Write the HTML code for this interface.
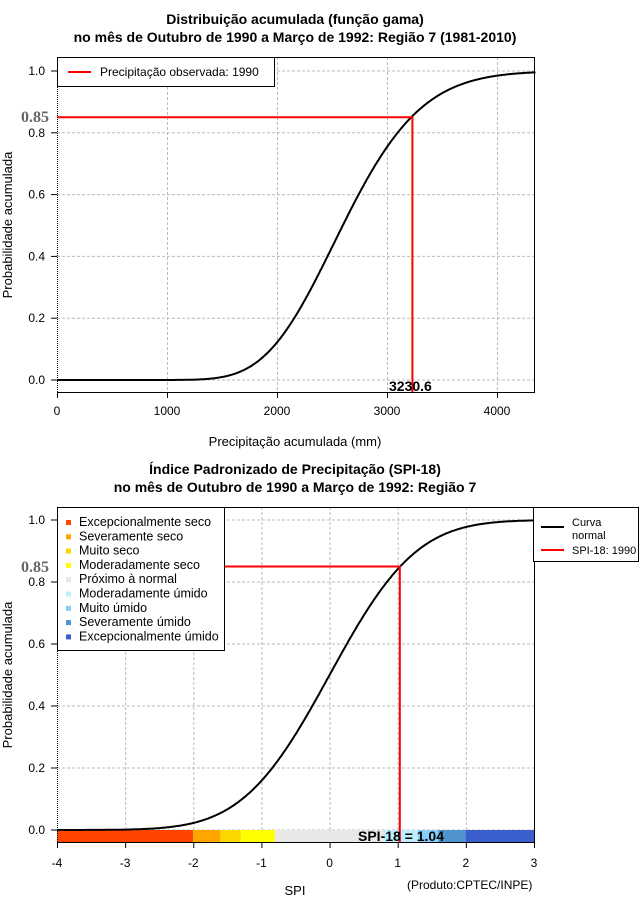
<!DOCTYPE html>
<html><head><meta charset="utf-8">
<style>
html,body{margin:0;padding:0;background:#fff;}
svg{display:block;font-family:"Liberation Sans",sans-serif;}
</style></head><body>
<svg id="s" width="640" height="900" xmlns="http://www.w3.org/2000/svg">
<rect width="640" height="900" fill="#fff"/>
<g font-weight="bold" font-size="14" text-anchor="middle" fill="#000">
<text x="295" y="24">Distribuição acumulada (função gama)</text>
<text x="295" y="42">no mês de Outubro de 1990 a Março de 1992: Região 7 (1981-2010)</text>
<text x="295" y="474">Índice Padronizado de Precipitação (SPI-18)</text>
<text x="295" y="492">no mês de Outubro de 1990 a Março de 1992: Região 7</text>
</g>
<g id="grid" stroke="#bbb" stroke-dasharray="3,2" stroke-width="1"></g>
<g>
<rect x="57" y="830" width="136.2" height="12" fill="#ff4500"/>
<rect x="193.2" y="830" width="27.2" height="12" fill="#ffa500"/>
<rect x="220.4" y="830" width="20.4" height="12" fill="#ffd700"/>
<rect x="240.8" y="830" width="34.1" height="12" fill="#ffff00"/>
<rect x="274.9" y="830" width="109" height="12" fill="#e8e8e8"/>
<rect x="383.9" y="830" width="34.1" height="12" fill="#bfefff"/>
<rect x="418" y="830" width="20.4" height="12" fill="#87cefa"/>
<rect x="438.4" y="830" width="27.2" height="12" fill="#4f94cd"/>
<rect x="465.6" y="830" width="68.4" height="12" fill="#3a5fcd"/>
</g>
<path id="c1" fill="none" stroke="#000" stroke-width="2"/>
<path id="c2" fill="none" stroke="#000" stroke-width="2"/>
<g stroke="#f00" stroke-width="2" fill="none">
<path d="M57 117.3H412.4V392"/>
<path d="M57 566.5H399.8V842"/>
</g>
<g fill="none" stroke="#000" stroke-width="1">
<path d="M57.5 57.5H534.5V392.5H57.5" />
<path d="M57.5 507.5H534.5V842.5H57.5" />
</g>
<g stroke="#000" stroke-dasharray="1,1"><line x1="57.5" y1="57" x2="57.5" y2="392"/><line x1="57.5" y1="507" x2="57.5" y2="842"/><line x1="534.5" y1="562" x2="534.5" y2="842"/></g>
<g id="ticks" stroke="#000"></g>
<g id="labs" font-size="12" fill="#000"></g>
<g font-family="Liberation Serif,serif" font-weight="bold" font-size="16" fill="#666">
<text x="21" y="122">0.85</text><text x="21" y="572">0.85</text>
</g>
<text x="389" y="391" font-size="14" font-weight="bold">3230.6</text>
<text x="358" y="841" font-size="14" font-weight="bold">SPI-18 = 1.04</text>
<g font-size="13" text-anchor="middle">
<text x="295" y="446">Precipitação acumulada (mm)</text>
<text x="295" y="895">SPI</text>
<text transform="translate(12,225) rotate(-90)">Probabilidade acumulada</text>
<text transform="translate(12,675) rotate(-90)">Probabilidade acumulada</text>
</g>
<text x="407" y="889" font-size="12">(Produto:CPTEC/INPE)</text>
<rect x="57.5" y="57.5" width="217" height="29" fill="#fff" stroke="#000"/>
<line x1="68" y1="72" x2="91" y2="72" stroke="#f00" stroke-width="2"/>
<text x="100" y="76" font-size="12">Precipitação observada: 1990</text>
<rect x="57.5" y="507.5" width="167" height="143" fill="#fff" stroke="#000"/>
<g id="leg" font-size="12.5"></g>
<rect x="533.5" y="507.5" width="105" height="54" fill="#fff" stroke="#000"/>
<line x1="541" y1="527" x2="564" y2="527" stroke="#000" stroke-width="2"/>
<line x1="541" y1="550" x2="564" y2="550" stroke="#f00" stroke-width="2"/>
<g font-size="11"><text x="572" y="526">Curva</text><text x="572" y="539">normal</text><text x="572" y="554">SPI-18: 1990</text></g>
</svg>
<script>
var NS="http://www.w3.org/2000/svg";
function el(p,t,a,txt){var e=document.createElementNS(NS,t);for(var k in a)e.setAttribute(k,a[k]);if(txt!=null)e.textContent=txt;document.getElementById(p).appendChild(e);}
for(var i=0;i<=4;i++){var x=57+i*110;if(i>0)el("grid","line",{x1:x+.5,y1:57,x2:x+.5,y2:392});el("ticks","line",{x1:x+.5,y1:392,x2:x+.5,y2:398});el("labs","text",{x:x,y:415,"text-anchor":"middle"},String(i*1000));}
for(var i=0;i<=5;i++){var y=380-i*61.8;el("grid","line",{x1:57,y1:y,x2:534,y2:y});el("ticks","line",{x1:51,y1:y,x2:57,y2:y});el("labs","text",{x:45,y:y+4,"text-anchor":"end"},(i*0.2).toFixed(1));}
for(var i=0;i<=7;i++){var x=57+i*68.14;if(i>0&&i<7)el("grid","line",{x1:x+.5,y1:507,x2:x+.5,y2:842});el("ticks","line",{x1:x+.5,y1:842,x2:x+.5,y2:848});el("labs","text",{x:x,y:867,"text-anchor":"middle"},String(i-4));}
for(var i=0;i<=5;i++){var y=830-i*62;el("grid","line",{x1:57,y1:y,x2:534,y2:y});el("ticks","line",{x1:51,y1:y,x2:57,y2:y});el("labs","text",{x:45,y:y+4,"text-anchor":"end"},(i*0.2).toFixed(1));}
var k=22,th=120,d="",acc=0,dx=5;
function lg(x){return (k-1)*Math.log(x)-x/th;}
var vals=[];for(var x=0;x<=9000;x+=dx){var v=x>0?Math.exp(lg(x)-lg((k-1)*th)):0;vals.push(v);}
var tot=0;for(var i=0;i<vals.length;i++)tot+=vals[i];
acc=0;for(var i=0;i<vals.length;i++){acc+=vals[i];var x=i*dx;if(x>4350)break;var p=acc/tot;d+=(i?"L":"M")+(57+x*0.11).toFixed(1)+" "+(380-p*309).toFixed(1);}
document.getElementById("c1").setAttribute("d",d);
function erf(x){var t=1/(1+0.3275911*Math.abs(x));var y=1-(((((1.061405429*t-1.453152027)*t)+1.421413741)*t-0.284496736)*t+0.254829592)*t*Math.exp(-x*x);return x>=0?y:-y;}
d="";for(var z=-4;z<=3.001;z+=0.02){var p=0.5*(1+erf(z/Math.SQRT2));d+=(z>-4?"L":"M")+(57+(z+4)*68.14).toFixed(1)+" "+(830-p*310).toFixed(1);}
document.getElementById("c2").setAttribute("d",d);
var L=[["Excepcionalmente seco","#ff4500"],["Severamente seco","#ffa500"],["Muito seco","#ffd700"],["Moderadamente seco","#ffff00"],["Próximo à normal","#e8e8e8"],["Moderadamente úmido","#bfefff"],["Muito úmido","#87cefa"],["Severamente úmido","#4f94cd"],["Excepcionalmente úmido","#3a5fcd"]];
for(var i=0;i<L.length;i++){var y=522+i*14.3;el("leg","rect",{x:66,y:y-2,width:5,height:5,fill:L[i][1]});el("leg","text",{x:79,y:y+4},L[i][0]);}
</script>
</body></html>
